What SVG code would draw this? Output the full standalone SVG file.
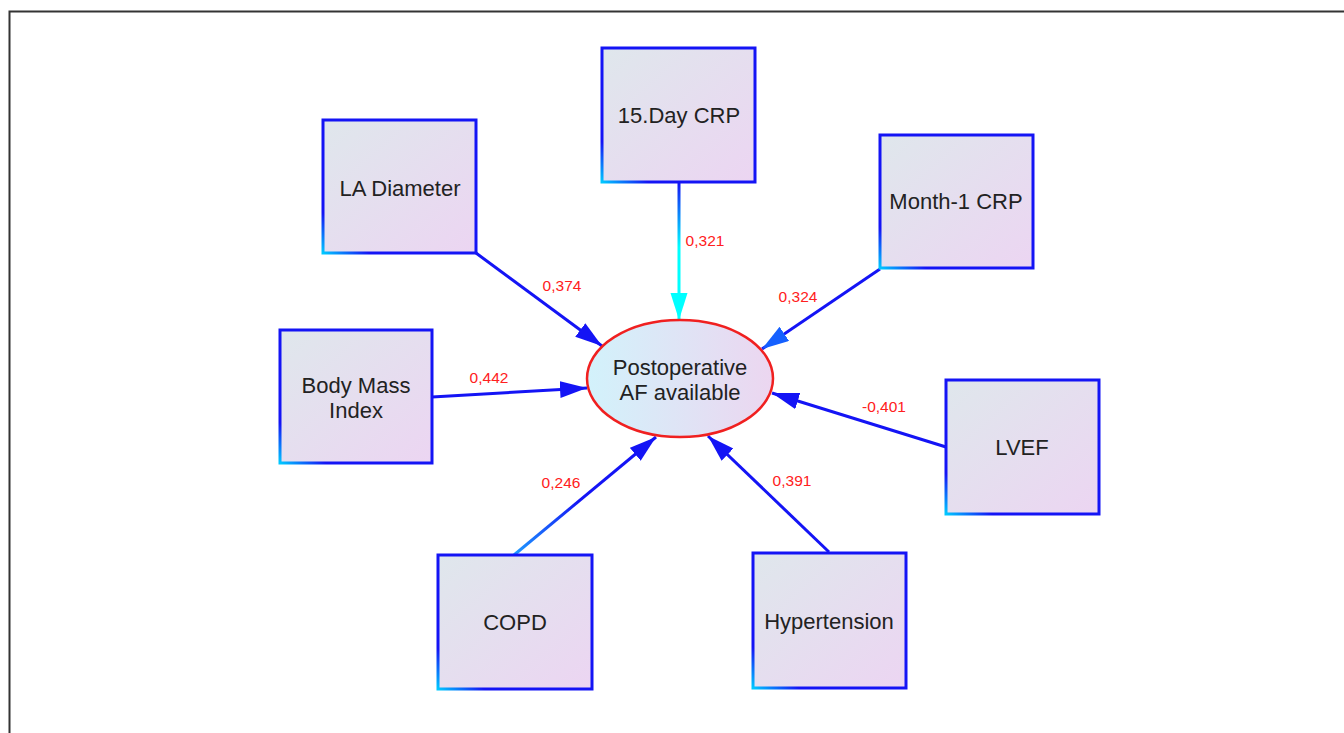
<svg xmlns="http://www.w3.org/2000/svg" width="1344" height="733" viewBox="0 0 1344 733">
<defs>
<style>
.box{stroke:url(#boxStroke);stroke-width:3;fill:url(#boxFill)}
.lbl{font-family:"Liberation Sans",Arial,sans-serif;font-size:22px;fill:#222;text-anchor:middle}
.val{font-family:"Liberation Sans",Arial,sans-serif;font-size:15.5px;fill:#ff2020;text-anchor:middle}
.con{fill:none;stroke-width:3}
</style>
<linearGradient id="boxFill" x1="0" y1="0" x2="1" y2="1">
<stop offset="0" stop-color="#dfe7ec"/>
<stop offset="1" stop-color="#ecd5f2"/>
</linearGradient>
<linearGradient id="boxStroke" x1="0" y1="1" x2="1" y2="0">
<stop offset="0" stop-color="#00c8ff"/>
<stop offset="0.15" stop-color="#1414f5"/>
<stop offset="1" stop-color="#1414f5"/>
</linearGradient>
<linearGradient id="ellFill" x1="0" y1="0" x2="1" y2="0">
<stop offset="0" stop-color="#d2f2fb"/>
<stop offset="1" stop-color="#ecd6f0"/>
</linearGradient>
<linearGradient id="gDay" gradientUnits="userSpaceOnUse" x1="0" y1="183" x2="0" y2="300">
<stop offset="0" stop-color="#1414f5"/>
<stop offset="0.55" stop-color="#00ffff"/>
<stop offset="1" stop-color="#00ffff"/>
</linearGradient>
<linearGradient id="gCopd" gradientUnits="userSpaceOnUse" x1="514" y1="555" x2="645" y2="446">
<stop offset="0" stop-color="#1e9cff"/>
<stop offset="0.5" stop-color="#1414f5"/>
<stop offset="1" stop-color="#1414f5"/>
</linearGradient>
<marker id="aBlue" markerUnits="userSpaceOnUse" markerWidth="28" markerHeight="18" refX="27" refY="8.5" orient="auto">
<path d="M0,0 L27,8.5 L0,17 z" fill="#1414f5"/>
</marker>
<marker id="aCyan" markerUnits="userSpaceOnUse" markerWidth="28" markerHeight="18" refX="27" refY="8.5" orient="auto">
<path d="M0,0 L27,8.5 L0,17 z" fill="#00ffff"/>
</marker>
<marker id="aMid" markerUnits="userSpaceOnUse" markerWidth="28" markerHeight="18" refX="27" refY="8.5" orient="auto">
<path d="M0,0 L27,8.5 L0,17 z" fill="#1560ff"/>
</marker>
</defs>
<rect x="0" y="0" width="1344" height="733" fill="#ffffff"/>
<rect x="9.5" y="11.5" width="1400" height="800" fill="none" stroke="#333" stroke-width="2"/>

<g id="connectors">
<line class="con" x1="476" y1="253" x2="602" y2="346" stroke="#1414f5" marker-end="url(#aBlue)"/>
<line class="con" x1="432" y1="397" x2="587" y2="388" stroke="#1414f5" marker-end="url(#aBlue)"/>
<line class="con" x1="679" y1="183" x2="679" y2="320" stroke="url(#gDay)" marker-end="url(#aCyan)"/>
<line class="con" x1="880" y1="269" x2="762" y2="349" stroke="#1414f5" marker-end="url(#aMid)"/>
<line class="con" x1="946" y1="447" x2="772" y2="393" stroke="#1414f5" marker-end="url(#aBlue)"/>
<line class="con" x1="514" y1="555" x2="656" y2="437" stroke="url(#gCopd)" marker-end="url(#aBlue)"/>
<line class="con" x1="829" y1="552" x2="708" y2="436" stroke="#1414f5" marker-end="url(#aBlue)"/>
<text class="val" x="562" y="291">0,374</text>
<text class="val" x="489" y="383">0,442</text>
<text class="val" x="705" y="246">0,321</text>
<text class="val" x="798" y="302">0,324</text>
<text class="val" x="884" y="412">-0,401</text>
<text class="val" x="561" y="488">0,246</text>
<text class="val" x="792" y="486">0,391</text>
</g>

<g id="node-la">
<rect class="box" x="323" y="120" width="153" height="133"/>
<text class="lbl" x="400" y="196">LA Diameter</text>
</g>
<g id="node-day15">
<rect class="box" x="602" y="48" width="153" height="134"/>
<text class="lbl" x="679" y="123">15.Day CRP</text>
</g>
<g id="node-month1">
<rect class="box" x="880" y="135" width="153" height="133"/>
<text class="lbl" x="956" y="209">Month-1 CRP</text>
</g>
<g id="node-bmi">
<rect class="box" x="280" y="330" width="152" height="133"/>
<text class="lbl" x="356" y="393">Body Mass</text>
<text class="lbl" x="356" y="418">Index</text>
</g>
<g id="node-lvef">
<rect class="box" x="946" y="380" width="153" height="134"/>
<text class="lbl" x="1022" y="455">LVEF</text>
</g>
<g id="node-copd">
<rect class="box" x="438" y="555" width="154" height="134"/>
<text class="lbl" x="515" y="630">COPD</text>
</g>
<g id="node-htn">
<rect class="box" x="753" y="553" width="153" height="135"/>
<text class="lbl" x="829" y="629">Hypertension</text>
</g>
<g id="node-af">
<ellipse cx="680" cy="378.5" rx="93" ry="58.5" fill="url(#ellFill)" stroke="#f02020" stroke-width="2.5"/>
<text class="lbl" x="680" y="375">Postoperative</text>
<text class="lbl" x="680" y="400">AF available</text>
</g>
</svg>
